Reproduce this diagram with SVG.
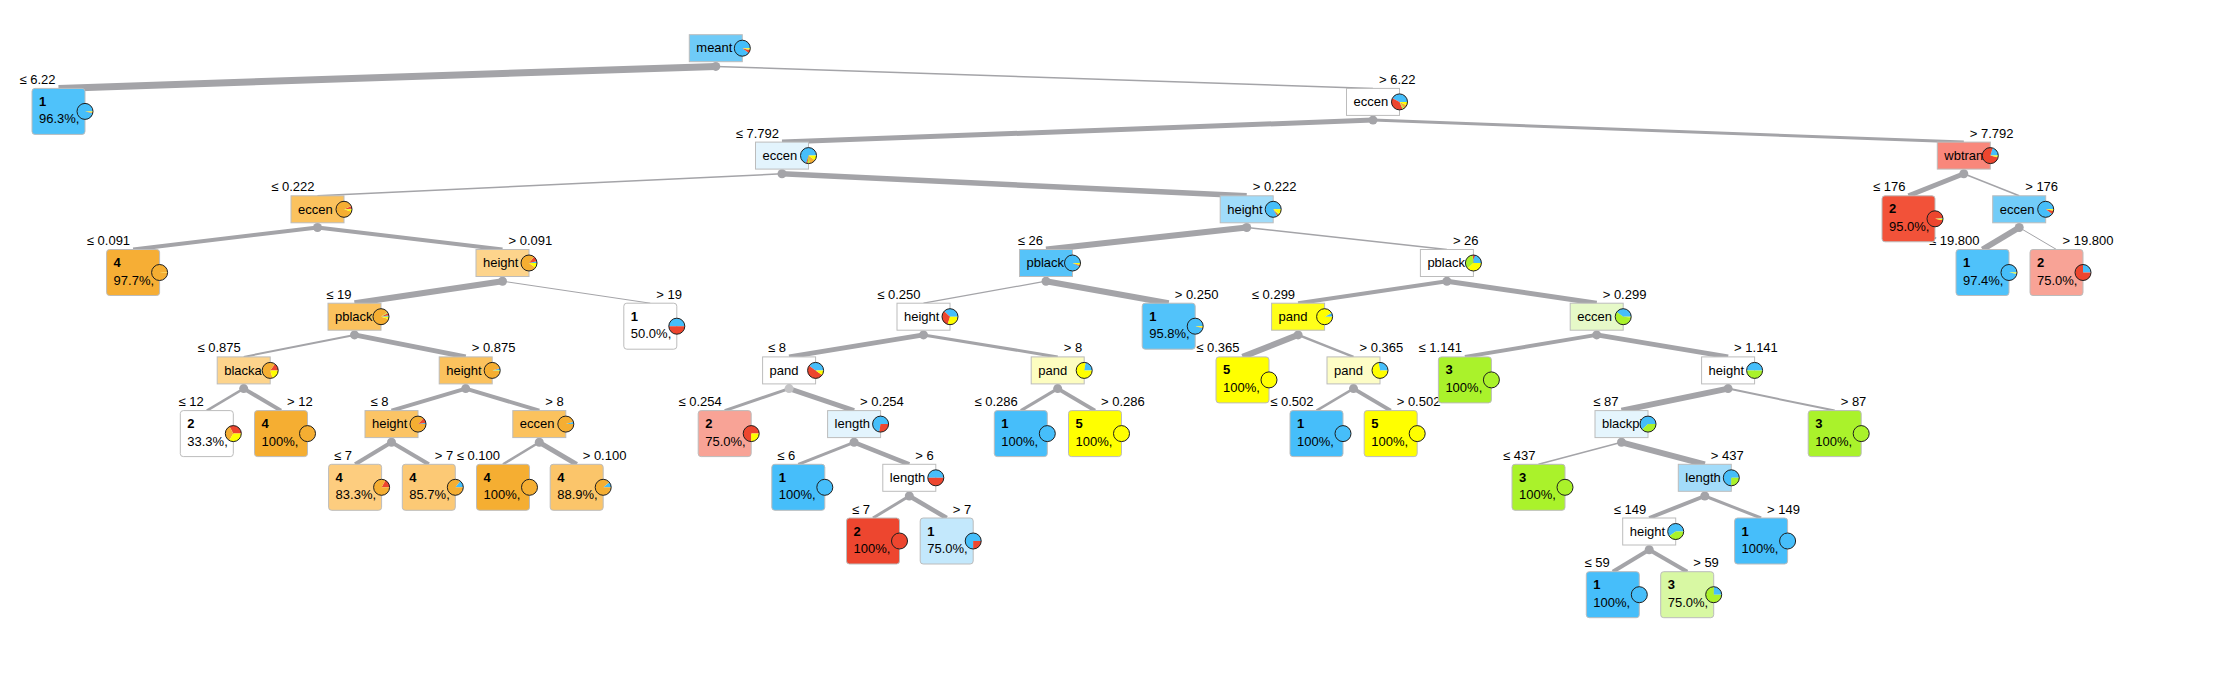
<svg xmlns="http://www.w3.org/2000/svg" width="2222" height="686" viewBox="0 0 2222 686">
<style>
.e{stroke:#a4a4a8;fill:none}
.d{fill:#a4a4a8}
.bx{stroke:#bcbcbc;stroke-width:1}
.t{font-family:"Liberation Sans",Arial,sans-serif;font-size:13px;fill:#000}
.b{font-weight:bold}
.el{font-family:"Liberation Sans",Arial,sans-serif;font-size:13px;fill:#000}
.r{text-anchor:end}
.s{fill:none;stroke-width:8}
.c1{stroke:#46befa}.c2{stroke:#ed462f}.c3{stroke:#aaf22b}.c4{stroke:#f5ae32}.c5{stroke:#ffff00}
.pie{fill:none;stroke:#1e1e1e;stroke-width:1}
.p1{fill:#46befa}.p2{fill:#ed462f}.p3{fill:#aaf22b}.p4{fill:#f5ae32}.p5{fill:#ffff00}
</style>
<rect width="2222" height="686" fill="#ffffff"/>
<g id="connectors">
<line class="e" stroke-width="7" x1="715.8" y1="66.4" x2="58.5" y2="88.4"/>
<line class="e" stroke-width="1.5" x1="715.8" y1="66.4" x2="1373" y2="88.4"/>
<line class="e" stroke-width="5" x1="1373" y1="120.1" x2="782" y2="142.1"/>
<line class="e" stroke-width="3" x1="1373" y1="120.1" x2="1963.8" y2="142.1"/>
<line class="e" stroke-width="1.5" x1="782" y1="173.8" x2="317.5" y2="195.8"/>
<line class="e" stroke-width="5.5" x1="782" y1="173.8" x2="1246.7" y2="195.8"/>
<line class="e" stroke-width="5" x1="1963.8" y1="173.8" x2="1908.5" y2="195.8"/>
<line class="e" stroke-width="1.5" x1="1963.8" y1="173.8" x2="2019.2" y2="195.8"/>
<line class="e" stroke-width="4" x1="317.5" y1="227.5" x2="133.1" y2="249.5"/>
<line class="e" stroke-width="4" x1="317.5" y1="227.5" x2="502.5" y2="249.5"/>
<line class="e" stroke-width="6" x1="1246.7" y1="227.5" x2="1046" y2="249.5"/>
<line class="e" stroke-width="1.5" x1="1246.7" y1="227.5" x2="1446.9" y2="249.5"/>
<line class="e" stroke-width="6" x1="2019.2" y1="227.5" x2="1982.5" y2="249.5"/>
<line class="e" stroke-width="1" x1="2019.2" y1="227.5" x2="2056.5" y2="249.5"/>
<line class="e" stroke-width="6" x1="502.5" y1="281.2" x2="354.5" y2="303.2"/>
<line class="e" stroke-width="1" x1="502.5" y1="281.2" x2="650.3" y2="303.2"/>
<line class="e" stroke-width="1.2" x1="1046" y1="281.2" x2="923.5" y2="303.2"/>
<line class="e" stroke-width="6" x1="1046" y1="281.2" x2="1168.7" y2="303.2"/>
<line class="e" stroke-width="4" x1="1446.9" y1="281.2" x2="1298.1" y2="303.2"/>
<line class="e" stroke-width="5" x1="1446.9" y1="281.2" x2="1596.7" y2="303.2"/>
<line class="e" stroke-width="2" x1="354.5" y1="334.9" x2="243.7" y2="356.9"/>
<line class="e" stroke-width="5" x1="354.5" y1="334.9" x2="465.7" y2="356.9"/>
<line class="e" stroke-width="5" x1="923.5" y1="334.9" x2="789.1" y2="356.9"/>
<line class="e" stroke-width="3" x1="923.5" y1="334.9" x2="1057.7" y2="356.9"/>
<line class="e" stroke-width="6" x1="1298.1" y1="334.9" x2="1242.5" y2="356.9"/>
<line class="e" stroke-width="2.5" x1="1298.1" y1="334.9" x2="1353.5" y2="356.9"/>
<line class="e" stroke-width="4" x1="1596.7" y1="334.9" x2="1464.9" y2="356.9"/>
<line class="e" stroke-width="5" x1="1596.7" y1="334.9" x2="1728.1" y2="356.9"/>
<line class="e" stroke-width="2.5" x1="243.7" y1="388.6" x2="206.8" y2="410.6"/>
<line class="e" stroke-width="4" x1="243.7" y1="388.6" x2="281" y2="410.6"/>
<line class="e" stroke-width="4" x1="465.7" y1="388.6" x2="391.5" y2="410.6"/>
<line class="e" stroke-width="4" x1="465.7" y1="388.6" x2="539.3" y2="410.6"/>
<line class="e" stroke-width="3" x1="789.1" y1="388.6" x2="724.7" y2="410.6"/>
<line class="e" stroke-width="5" x1="789.1" y1="388.6" x2="854.1" y2="410.6"/>
<line class="e" stroke-width="3" x1="1057.7" y1="388.6" x2="1020.8" y2="410.6"/>
<line class="e" stroke-width="4" x1="1057.7" y1="388.6" x2="1095" y2="410.6"/>
<line class="e" stroke-width="2.5" x1="1353.5" y1="388.6" x2="1316.5" y2="410.6"/>
<line class="e" stroke-width="4" x1="1353.5" y1="388.6" x2="1390.7" y2="410.6"/>
<line class="e" stroke-width="6" x1="1728.1" y1="388.6" x2="1621.5" y2="410.6"/>
<line class="e" stroke-width="2" x1="1728.1" y1="388.6" x2="1834.7" y2="410.6"/>
<line class="e" stroke-width="4" x1="391.5" y1="442.3" x2="355.1" y2="464.3"/>
<line class="e" stroke-width="4" x1="391.5" y1="442.3" x2="428.8" y2="464.3"/>
<line class="e" stroke-width="2.5" x1="539.3" y1="442.3" x2="503" y2="464.3"/>
<line class="e" stroke-width="5" x1="539.3" y1="442.3" x2="576.7" y2="464.3"/>
<line class="e" stroke-width="3" x1="854.1" y1="442.3" x2="798.3" y2="464.3"/>
<line class="e" stroke-width="4.5" x1="854.1" y1="442.3" x2="909.3" y2="464.3"/>
<line class="e" stroke-width="1.5" x1="1621.5" y1="442.3" x2="1538.5" y2="464.3"/>
<line class="e" stroke-width="6" x1="1621.5" y1="442.3" x2="1704.8" y2="464.3"/>
<line class="e" stroke-width="3" x1="909.3" y1="496" x2="873" y2="518"/>
<line class="e" stroke-width="4.5" x1="909.3" y1="496" x2="946.7" y2="518"/>
<line class="e" stroke-width="4" x1="1704.8" y1="496" x2="1649.2" y2="518"/>
<line class="e" stroke-width="3" x1="1704.8" y1="496" x2="1761.1" y2="518"/>
<line class="e" stroke-width="4" x1="1649.2" y1="549.7" x2="1612.8" y2="571.7"/>
<line class="e" stroke-width="4" x1="1649.2" y1="549.7" x2="1687.2" y2="571.7"/>
<g class="d">
<circle cx="715.8" cy="66.4" r="4.5"/><circle cx="1373" cy="120.1" r="4.5"/><circle cx="782" cy="173.8" r="4.5"/><circle cx="1963.8" cy="173.8" r="4.5"/>
<circle cx="317.5" cy="227.5" r="4.5"/><circle cx="1246.7" cy="227.5" r="4.5"/><circle cx="2019.2" cy="227.5" r="4.5"/>
<circle cx="502.5" cy="281.2" r="4.5"/><circle cx="1046" cy="281.2" r="4.5"/><circle cx="1446.9" cy="281.2" r="4.5"/>
<circle cx="354.5" cy="334.9" r="4.5"/><circle cx="923.5" cy="334.9" r="4.5"/><circle cx="1298.1" cy="334.9" r="4.5"/><circle cx="1596.7" cy="334.9" r="4.5"/>
<circle cx="243.7" cy="388.6" r="4.5"/><circle cx="465.7" cy="388.6" r="4.5"/><circle cx="789.1" cy="388.6" r="4.5" fill="#c4c4c6"/><circle cx="1057.7" cy="388.6" r="4.5"/><circle cx="1353.5" cy="388.6" r="4.5"/><circle cx="1728.1" cy="388.6" r="4.5"/>
<circle cx="391.5" cy="442.3" r="4.5"/><circle cx="539.3" cy="442.3" r="4.5"/><circle cx="854.1" cy="442.3" r="4.5"/><circle cx="1621.5" cy="442.3" r="4.5"/>
<circle cx="909.3" cy="496" r="4.5"/><circle cx="1704.8" cy="496" r="4.5"/><circle cx="1649.2" cy="549.7" r="4.5"/>
</g>
<g class="el">
<text class="r" x="55.5" y="83.9">≤ 6.22</text><text x="1379" y="83.9">&gt; 6.22</text>
<text class="r" x="779" y="137.6">≤ 7.792</text><text x="1969.8" y="137.6">&gt; 7.792</text>
<text class="r" x="314.5" y="191.3">≤ 0.222</text><text x="1252.7" y="191.3">&gt; 0.222</text>
<text class="r" x="1905.5" y="191.3">≤ 176</text><text x="2025.2" y="191.3">&gt; 176</text>
<text class="r" x="130.1" y="245">≤ 0.091</text><text x="508.5" y="245">&gt; 0.091</text>
<text class="r" x="1043" y="245">≤ 26</text><text x="1452.9" y="245">&gt; 26</text>
<text class="r" x="1979.5" y="245">≤ 19.800</text><text x="2062.5" y="245">&gt; 19.800</text>
<text class="r" x="351.5" y="298.7">≤ 19</text><text x="656.3" y="298.7">&gt; 19</text>
<text class="r" x="920.5" y="298.7">≤ 0.250</text><text x="1174.7" y="298.7">&gt; 0.250</text>
<text class="r" x="1295.1" y="298.7">≤ 0.299</text><text x="1602.7" y="298.7">&gt; 0.299</text>
<text class="r" x="240.7" y="352.4">≤ 0.875</text><text x="471.7" y="352.4">&gt; 0.875</text>
<text class="r" x="786.1" y="352.4">≤ 8</text><text x="1063.7" y="352.4">&gt; 8</text>
<text class="r" x="1239.5" y="352.4">≤ 0.365</text><text x="1359.5" y="352.4">&gt; 0.365</text>
<text class="r" x="1461.9" y="352.4">≤ 1.141</text><text x="1734.1" y="352.4">&gt; 1.141</text>
<text class="r" x="203.8" y="406.1">≤ 12</text><text x="287" y="406.1">&gt; 12</text>
<text class="r" x="388.5" y="406.1">≤ 8</text><text x="545.3" y="406.1">&gt; 8</text>
<text class="r" x="721.7" y="406.1">≤ 0.254</text><text x="860.1" y="406.1">&gt; 0.254</text>
<text class="r" x="1017.8" y="406.1">≤ 0.286</text><text x="1101" y="406.1">&gt; 0.286</text>
<text class="r" x="1313.5" y="406.1">≤ 0.502</text><text x="1396.7" y="406.1">&gt; 0.502</text>
<text class="r" x="1618.5" y="406.1">≤ 87</text><text x="1840.7" y="406.1">&gt; 87</text>
<text class="r" x="352.1" y="459.8">≤ 7</text><text x="434.8" y="459.8">&gt; 7</text>
<text class="r" x="500" y="459.8">≤ 0.100</text><text x="582.7" y="459.8">&gt; 0.100</text>
<text class="r" x="795.3" y="459.8">≤ 6</text><text x="915.3" y="459.8">&gt; 6</text>
<text class="r" x="1535.5" y="459.8">≤ 437</text><text x="1710.8" y="459.8">&gt; 437</text>
<text class="r" x="870" y="513.5">≤ 7</text><text x="952.7" y="513.5">&gt; 7</text>
<text class="r" x="1646.2" y="513.5">≤ 149</text><text x="1767.1" y="513.5">&gt; 149</text>
<text class="r" x="1609.8" y="567.2">≤ 59</text><text x="1693.2" y="567.2">&gt; 59</text>
</g>
</g>

<g id="n0"><rect class="bx" x="689.3" y="34.7" width="53" height="27" fill="#6fcbf8"/><text class="t" x="696.3" y="52.4">meant</text><g transform="translate(742.3 48.2) scale(1 -1)"><circle class="s c1" r="4" pathLength="100" stroke-dasharray="89.8 100"/><circle class="s c2" r="4" pathLength="100" stroke-dasharray="6 100" stroke-dashoffset="-89.8"/><circle class="s c3" r="4" pathLength="100" stroke-dasharray="0.5 100" stroke-dashoffset="-95.8"/><circle class="s c4" r="4" pathLength="100" stroke-dasharray="1.6 100" stroke-dashoffset="-96.3"/><circle class="s c5" r="4" pathLength="100" stroke-dasharray="2.1 100" stroke-dashoffset="-97.9"/></g><circle class="pie" cx="742.3" cy="48.2" r="8"/></g>

<g id="n1"><rect class="bx" x="32" y="88.4" width="53" height="46" rx="3" fill="#4fc2fa"/><text class="t b" x="39" y="105.9">1</text><text class="t" x="39" y="123.4">96.3%,</text><g transform="translate(85 111.4) scale(1 -1)"><circle class="s c1" r="4" pathLength="100" stroke-dasharray="96.3 100"/><circle class="s c2" r="4" pathLength="100" stroke-dasharray="1 100" stroke-dashoffset="-96.3"/><circle class="s c4" r="4" pathLength="100" stroke-dasharray="0.5 100" stroke-dashoffset="-97.3"/><circle class="s c5" r="4" pathLength="100" stroke-dasharray="2.2 100" stroke-dashoffset="-97.8"/></g><circle class="pie" cx="85" cy="111.4" r="8"/></g>

<g id="n2"><rect class="bx" x="1346.5" y="88.4" width="53" height="27" fill="#ffffff"/><text class="t" x="1353.5" y="106.1">eccen</text><g transform="translate(1399.5 101.9) scale(1 -1)"><circle class="s c1" r="4" pathLength="100" stroke-dasharray="42 100"/><circle class="s c2" r="4" pathLength="100" stroke-dasharray="40 100" stroke-dashoffset="-42"/><circle class="s c3" r="4" pathLength="100" stroke-dasharray="3 100" stroke-dashoffset="-82"/><circle class="s c4" r="4" pathLength="100" stroke-dasharray="8 100" stroke-dashoffset="-85"/><circle class="s c5" r="4" pathLength="100" stroke-dasharray="7 100" stroke-dashoffset="-93"/></g><circle class="pie" cx="1399.5" cy="101.9" r="8"/></g>

<g id="n3"><rect class="bx" x="755.5" y="142.1" width="53" height="27" fill="#e3f4fd"/><text class="t" x="762.5" y="159.8">eccen</text><g transform="translate(808.5 155.6) scale(1 -1)"><circle class="s c1" r="4" pathLength="100" stroke-dasharray="70 100"/><circle class="s c2" r="4" pathLength="100" stroke-dasharray="3 100" stroke-dashoffset="-70"/><circle class="s c3" r="4" pathLength="100" stroke-dasharray="4 100" stroke-dashoffset="-73"/><circle class="s c4" r="4" pathLength="100" stroke-dasharray="13 100" stroke-dashoffset="-77"/><circle class="s c5" r="4" pathLength="100" stroke-dasharray="10 100" stroke-dashoffset="-90"/></g><circle class="pie" cx="808.5" cy="155.6" r="8"/></g>

<g id="n4"><rect class="bx" x="1937.3" y="142.1" width="53" height="27" fill="#f9877b"/><text class="t" x="1944.3" y="159.8">wbtran</text><g transform="translate(1990.3 155.6) scale(1 -1)"><circle class="s c1" r="4" pathLength="100" stroke-dasharray="20 100"/><circle class="s c2" r="4" pathLength="100" stroke-dasharray="76 100" stroke-dashoffset="-20"/><circle class="s c4" r="4" pathLength="100" stroke-dasharray="1 100" stroke-dashoffset="-96"/><circle class="s c5" r="4" pathLength="100" stroke-dasharray="3 100" stroke-dashoffset="-97"/></g><circle class="pie" cx="1990.3" cy="155.6" r="8"/></g>

<g id="n5"><rect class="bx" x="291" y="195.8" width="53" height="27" fill="#fbc25e"/><text class="t" x="298" y="213.5">eccen</text><g transform="translate(344 209.3) scale(1 -1)"><circle class="s c1" r="4" pathLength="100" stroke-dasharray="1 100"/><circle class="s c2" r="4" pathLength="100" stroke-dasharray="6 100" stroke-dashoffset="-1"/><circle class="s c4" r="4" pathLength="100" stroke-dasharray="88 100" stroke-dashoffset="-7"/><circle class="s c5" r="4" pathLength="100" stroke-dasharray="5 100" stroke-dashoffset="-95"/></g><circle class="pie" cx="344" cy="209.3" r="8"/></g>

<g id="n6"><rect class="bx" x="1220.2" y="195.8" width="53" height="27" fill="#a0dcfa"/><text class="t" x="1227.2" y="213.5">height</text><g transform="translate(1273.2 209.3) scale(1 -1)"><circle class="s c1" r="4" pathLength="100" stroke-dasharray="84 100"/><circle class="s c2" r="4" pathLength="100" stroke-dasharray="3 100" stroke-dashoffset="-84"/><circle class="s c3" r="4" pathLength="100" stroke-dasharray="2 100" stroke-dashoffset="-87"/><circle class="s c4" r="4" pathLength="100" stroke-dasharray="1 100" stroke-dashoffset="-89"/><circle class="s c5" r="4" pathLength="100" stroke-dasharray="10 100" stroke-dashoffset="-90"/></g><circle class="pie" cx="1273.2" cy="209.3" r="8"/></g>

<g id="n7"><rect class="bx" x="1882" y="195.8" width="53" height="46" rx="3" fill="#f25239"/><text class="t b" x="1889" y="213.3">2</text><text class="t" x="1889" y="230.8">95.0%,</text><g transform="translate(1935 218.8) scale(1 -1)"><circle class="s c1" r="4" pathLength="100" stroke-dasharray="2 100"/><circle class="s c2" r="4" pathLength="100" stroke-dasharray="95 100" stroke-dashoffset="-2"/><circle class="s c5" r="4" pathLength="100" stroke-dasharray="3 100" stroke-dashoffset="-97"/></g><circle class="pie" cx="1935" cy="218.8" r="8"/></g>

<g id="n8"><rect class="bx" x="1992.7" y="195.8" width="53" height="27" fill="#72ccf8"/><text class="t" x="1999.7" y="213.5">eccen</text><g transform="translate(2045.7 209.3) scale(1 -1)"><circle class="s c1" r="4" pathLength="100" stroke-dasharray="90 100"/><circle class="s c2" r="4" pathLength="100" stroke-dasharray="7 100" stroke-dashoffset="-90"/><circle class="s c5" r="4" pathLength="100" stroke-dasharray="3 100" stroke-dashoffset="-97"/></g><circle class="pie" cx="2045.7" cy="209.3" r="8"/></g>

<g id="n9"><rect class="bx" x="106.6" y="249.5" width="53" height="46" rx="3" fill="#f6ae35"/><text class="t b" x="113.6" y="267">4</text><text class="t" x="113.6" y="284.5">97.7%,</text><g transform="translate(159.6 272.5) scale(1 -1)"><circle class="s c2" r="4" pathLength="100" stroke-dasharray="1 100"/><circle class="s c4" r="4" pathLength="100" stroke-dasharray="97.7 100" stroke-dashoffset="-1"/><circle class="s c5" r="4" pathLength="100" stroke-dasharray="1.3 100" stroke-dashoffset="-98.7"/></g><circle class="pie" cx="159.6" cy="272.5" r="8"/></g>

<g id="n10"><rect class="bx" x="476" y="249.5" width="53" height="27" fill="#fdd48c"/><text class="t" x="483" y="267.2">height</text><g transform="translate(529 263) scale(1 -1)"><circle class="s c1" r="4" pathLength="100" stroke-dasharray="4 100"/><circle class="s c2" r="4" pathLength="100" stroke-dasharray="10 100" stroke-dashoffset="-4"/><circle class="s c4" r="4" pathLength="100" stroke-dasharray="76 100" stroke-dashoffset="-14"/><circle class="s c5" r="4" pathLength="100" stroke-dasharray="10 100" stroke-dashoffset="-90"/></g><circle class="pie" cx="529" cy="263" r="8"/></g>

<g id="n11"><rect class="bx" x="1019.5" y="249.5" width="53" height="27" fill="#56c3f9"/><text class="t" x="1026.5" y="267.2">pblack</text><g transform="translate(1072.5 263) scale(1 -1)"><circle class="s c1" r="4" pathLength="100" stroke-dasharray="93 100"/><circle class="s c2" r="4" pathLength="100" stroke-dasharray="2 100" stroke-dashoffset="-93"/><circle class="s c4" r="4" pathLength="100" stroke-dasharray="1 100" stroke-dashoffset="-95"/><circle class="s c5" r="4" pathLength="100" stroke-dasharray="4 100" stroke-dashoffset="-96"/></g><circle class="pie" cx="1072.5" cy="263" r="8"/></g>

<g id="n12"><rect class="bx" x="1420.4" y="249.5" width="53" height="27" fill="#ffffff"/><text class="t" x="1427.4" y="267.2">pblack</text><g transform="translate(1473.4 263) scale(1 -1)"><circle class="s c1" r="4" pathLength="100" stroke-dasharray="25 100"/><circle class="s c2" r="4" pathLength="100" stroke-dasharray="2 100" stroke-dashoffset="-25"/><circle class="s c3" r="4" pathLength="100" stroke-dasharray="35 100" stroke-dashoffset="-27"/><circle class="s c5" r="4" pathLength="100" stroke-dasharray="38 100" stroke-dashoffset="-62"/></g><circle class="pie" cx="1473.4" cy="263" r="8"/></g>

<g id="n13"><rect class="bx" x="1956" y="249.5" width="53" height="46" rx="3" fill="#4fc2fa"/><text class="t b" x="1963" y="267">1</text><text class="t" x="1963" y="284.5">97.4%,</text><g transform="translate(2009 272.5) scale(1 -1)"><circle class="s c1" r="4" pathLength="100" stroke-dasharray="97.4 100"/><circle class="s c5" r="4" pathLength="100" stroke-dasharray="2.6 100" stroke-dashoffset="-97.4"/></g><circle class="pie" cx="2009" cy="272.5" r="8"/></g>

<g id="n14"><rect class="bx" x="2030" y="249.5" width="53" height="46" rx="3" fill="#f8a396"/><text class="t b" x="2037" y="267">2</text><text class="t" x="2037" y="284.5">75.0%,</text><g transform="translate(2083 272.5) scale(1 -1)"><circle class="s c1" r="4" pathLength="100" stroke-dasharray="25 100"/><circle class="s c2" r="4" pathLength="100" stroke-dasharray="75 100" stroke-dashoffset="-25"/></g><circle class="pie" cx="2083" cy="272.5" r="8"/></g>

<g id="n15"><rect class="bx" x="328" y="303.2" width="53" height="27" fill="#fbc25e"/><text class="t" x="335" y="320.9">pblack</text><g transform="translate(381 316.7) scale(1 -1)"><circle class="s c1" r="4" pathLength="100" stroke-dasharray="3 100"/><circle class="s c2" r="4" pathLength="100" stroke-dasharray="5 100" stroke-dashoffset="-3"/><circle class="s c3" r="4" pathLength="100" stroke-dasharray="2 100" stroke-dashoffset="-8"/><circle class="s c4" r="4" pathLength="100" stroke-dasharray="85 100" stroke-dashoffset="-10"/><circle class="s c5" r="4" pathLength="100" stroke-dasharray="5 100" stroke-dashoffset="-95"/></g><circle class="pie" cx="381" cy="316.7" r="8"/></g>

<g id="n16"><rect class="bx" x="623.8" y="303.2" width="53" height="46" rx="3" fill="#ffffff"/><text class="t b" x="630.8" y="320.7">1</text><text class="t" x="630.8" y="338.2">50.0%,</text><g transform="translate(676.8 326.2) scale(1 -1)"><circle class="s c1" r="4" pathLength="100" stroke-dasharray="50 100"/><circle class="s c2" r="4" pathLength="100" stroke-dasharray="50 100" stroke-dashoffset="-50"/></g><circle class="pie" cx="676.8" cy="326.2" r="8"/></g>

<g id="n17"><rect class="bx" x="897" y="303.2" width="53" height="27" fill="#ffffff"/><text class="t" x="904" y="320.9">height</text><g transform="translate(950 316.7) scale(1 -1)"><circle class="s c1" r="4" pathLength="100" stroke-dasharray="38 100"/><circle class="s c2" r="4" pathLength="100" stroke-dasharray="32 100" stroke-dashoffset="-38"/><circle class="s c5" r="4" pathLength="100" stroke-dasharray="30 100" stroke-dashoffset="-70"/></g><circle class="pie" cx="950" cy="316.7" r="8"/></g>

<g id="n18"><rect class="bx" x="1142.2" y="303.2" width="53" height="46" rx="3" fill="#52c3fa"/><text class="t b" x="1149.2" y="320.7">1</text><text class="t" x="1149.2" y="338.2">95.8%,</text><g transform="translate(1195.2 326.2) scale(1 -1)"><circle class="s c1" r="4" pathLength="100" stroke-dasharray="95.8 100"/><circle class="s c2" r="4" pathLength="100" stroke-dasharray="1 100" stroke-dashoffset="-95.8"/><circle class="s c5" r="4" pathLength="100" stroke-dasharray="3.2 100" stroke-dashoffset="-96.8"/></g><circle class="pie" cx="1195.2" cy="326.2" r="8"/></g>

<g id="n19"><rect class="bx" x="1271.6" y="303.2" width="53" height="27" fill="#ffff1a"/><text class="t" x="1278.6" y="320.9">pand</text><g transform="translate(1324.6 316.7) scale(1 -1)"><circle class="s c1" r="4" pathLength="100" stroke-dasharray="8 100"/><circle class="s c5" r="4" pathLength="100" stroke-dasharray="92 100" stroke-dashoffset="-8"/></g><circle class="pie" cx="1324.6" cy="316.7" r="8"/></g>

<g id="n20"><rect class="bx" x="1570.2" y="303.2" width="53" height="27" fill="#e6f9c8"/><text class="t" x="1577.2" y="320.9">eccen</text><g transform="translate(1623.2 316.7) scale(1 -1)"><circle class="s c1" r="4" pathLength="100" stroke-dasharray="40 100"/><circle class="s c3" r="4" pathLength="100" stroke-dasharray="58 100" stroke-dashoffset="-40"/><circle class="s c5" r="4" pathLength="100" stroke-dasharray="2 100" stroke-dashoffset="-98"/></g><circle class="pie" cx="1623.2" cy="316.7" r="8"/></g>

<g id="n21"><rect class="bx" x="217.2" y="356.9" width="53" height="27" fill="#fdd48c"/><text class="t" x="224.2" y="374.6">blacka</text><g transform="translate(270.2 370.4) scale(1 -1)"><circle class="s c2" r="4" pathLength="100" stroke-dasharray="15 100"/><circle class="s c4" r="4" pathLength="100" stroke-dasharray="65 100" stroke-dashoffset="-15"/><circle class="s c5" r="4" pathLength="100" stroke-dasharray="20 100" stroke-dashoffset="-80"/></g><circle class="pie" cx="270.2" cy="370.4" r="8"/></g>

<g id="n22"><rect class="bx" x="439.2" y="356.9" width="53" height="27" fill="#fbc25e"/><text class="t" x="446.2" y="374.6">height</text><g transform="translate(492.2 370.4) scale(1 -1)"><circle class="s c1" r="4" pathLength="100" stroke-dasharray="4 100"/><circle class="s c2" r="4" pathLength="100" stroke-dasharray="1 100" stroke-dashoffset="-4"/><circle class="s c4" r="4" pathLength="100" stroke-dasharray="93 100" stroke-dashoffset="-5"/><circle class="s c5" r="4" pathLength="100" stroke-dasharray="2 100" stroke-dashoffset="-98"/></g><circle class="pie" cx="492.2" cy="370.4" r="8"/></g>

<g id="n23"><rect class="bx" x="762.6" y="356.9" width="53" height="27" fill="#ffffff"/><text class="t" x="769.6" y="374.6">pand</text><g transform="translate(815.6 370.4) scale(1 -1)"><circle class="s c1" r="4" pathLength="100" stroke-dasharray="40 100"/><circle class="s c2" r="4" pathLength="100" stroke-dasharray="50 100" stroke-dashoffset="-40"/><circle class="s c5" r="4" pathLength="100" stroke-dasharray="10 100" stroke-dashoffset="-90"/></g><circle class="pie" cx="815.6" cy="370.4" r="8"/></g>

<g id="n24"><rect class="bx" x="1031.2" y="356.9" width="53" height="27" fill="#fdfdc0"/><text class="t" x="1038.2" y="374.6">pand</text><g transform="translate(1084.2 370.4) scale(1 -1)"><circle class="s c1" r="4" pathLength="100" stroke-dasharray="22 100"/><circle class="s c5" r="4" pathLength="100" stroke-dasharray="78 100" stroke-dashoffset="-22"/></g><circle class="pie" cx="1084.2" cy="370.4" r="8"/></g>

<g id="n25"><rect class="bx" x="1216" y="356.9" width="53" height="46" rx="3" fill="#ffff00"/><text class="t b" x="1223" y="374.4">5</text><text class="t" x="1223" y="391.9">100%,</text><circle class="pie p5" cx="1269" cy="379.9" r="8"/></g>

<g id="n26"><rect class="bx" x="1327" y="356.9" width="53" height="27" fill="#fdfdc6"/><text class="t" x="1334" y="374.6">pand</text><g transform="translate(1380 370.4) scale(1 -1)"><circle class="s c1" r="4" pathLength="100" stroke-dasharray="28 100"/><circle class="s c5" r="4" pathLength="100" stroke-dasharray="72 100" stroke-dashoffset="-28"/></g><circle class="pie" cx="1380" cy="370.4" r="8"/></g>

<g id="n27"><rect class="bx" x="1438.4" y="356.9" width="53" height="46" rx="3" fill="#aaf22b"/><text class="t b" x="1445.4" y="374.4">3</text><text class="t" x="1445.4" y="391.9">100%,</text><circle class="pie p3" cx="1491.4" cy="379.9" r="8"/></g>

<g id="n28"><rect class="bx" x="1701.6" y="356.9" width="53" height="27" fill="#ffffff"/><text class="t" x="1708.6" y="374.6">height</text><g transform="translate(1754.6 370.4) scale(1 -1)"><circle class="s c1" r="4" pathLength="100" stroke-dasharray="50 100"/><circle class="s c3" r="4" pathLength="100" stroke-dasharray="50 100" stroke-dashoffset="-50"/></g><circle class="pie" cx="1754.6" cy="370.4" r="8"/></g>

<g id="n29"><rect class="bx" x="180.3" y="410.6" width="53" height="46" rx="3" fill="#ffffff"/><text class="t b" x="187.3" y="428.1">2</text><text class="t" x="187.3" y="445.6">33.3%,</text><g transform="translate(233.3 433.6) scale(1 -1)"><circle class="s c2" r="4" pathLength="100" stroke-dasharray="33.3 100"/><circle class="s c4" r="4" pathLength="100" stroke-dasharray="33.3 100" stroke-dashoffset="-33.3"/><circle class="s c5" r="4" pathLength="100" stroke-dasharray="33.4 100" stroke-dashoffset="-66.6"/></g><circle class="pie" cx="233.3" cy="433.6" r="8"/></g>

<g id="n30"><rect class="bx" x="254.5" y="410.6" width="53" height="46" rx="3" fill="#f5ae32"/><text class="t b" x="261.5" y="428.1">4</text><text class="t" x="261.5" y="445.6">100%,</text><circle class="pie p4" cx="307.5" cy="433.6" r="8"/></g>

<g id="n31"><rect class="bx" x="365" y="410.6" width="53" height="27" fill="#fbc465"/><text class="t" x="372" y="428.3">height</text><g transform="translate(418 424.1) scale(1 -1)"><circle class="s c1" r="4" pathLength="100" stroke-dasharray="3 100"/><circle class="s c2" r="4" pathLength="100" stroke-dasharray="10 100" stroke-dashoffset="-3"/><circle class="s c4" r="4" pathLength="100" stroke-dasharray="87 100" stroke-dashoffset="-13"/></g><circle class="pie" cx="418" cy="424.1" r="8"/></g>

<g id="n32"><rect class="bx" x="512.8" y="410.6" width="53" height="27" fill="#fbc25e"/><text class="t" x="519.8" y="428.3">eccen</text><g transform="translate(565.8 424.1) scale(1 -1)"><circle class="s c1" r="4" pathLength="100" stroke-dasharray="5 100"/><circle class="s c4" r="4" pathLength="100" stroke-dasharray="95 100" stroke-dashoffset="-5"/></g><circle class="pie" cx="565.8" cy="424.1" r="8"/></g>

<g id="n33"><rect class="bx" x="698.2" y="410.6" width="53" height="46" rx="3" fill="#f8a396"/><text class="t b" x="705.2" y="428.1">2</text><text class="t" x="705.2" y="445.6">75.0%,</text><g transform="translate(751.2 433.6) scale(1 -1)"><circle class="s c2" r="4" pathLength="100" stroke-dasharray="75 100"/><circle class="s c5" r="4" pathLength="100" stroke-dasharray="25 100" stroke-dashoffset="-75"/></g><circle class="pie" cx="751.2" cy="433.6" r="8"/></g>

<g id="n34"><rect class="bx" x="827.6" y="410.6" width="53" height="27" fill="#e3f4fd"/><text class="t" x="834.6" y="428.3">length</text><g transform="translate(880.6 424.1) scale(1 -1)"><circle class="s c1" r="4" pathLength="100" stroke-dasharray="72 100"/><circle class="s c2" r="4" pathLength="100" stroke-dasharray="28 100" stroke-dashoffset="-72"/></g><circle class="pie" cx="880.6" cy="424.1" r="8"/></g>

<g id="n35"><rect class="bx" x="994.3" y="410.6" width="53" height="46" rx="3" fill="#46befa"/><text class="t b" x="1001.3" y="428.1">1</text><text class="t" x="1001.3" y="445.6">100%,</text><circle class="pie p1" cx="1047.3" cy="433.6" r="8"/></g>

<g id="n36"><rect class="bx" x="1068.5" y="410.6" width="53" height="46" rx="3" fill="#ffff00"/><text class="t b" x="1075.5" y="428.1">5</text><text class="t" x="1075.5" y="445.6">100%,</text><circle class="pie p5" cx="1121.5" cy="433.6" r="8"/></g>

<g id="n37"><rect class="bx" x="1290" y="410.6" width="53" height="46" rx="3" fill="#46befa"/><text class="t b" x="1297" y="428.1">1</text><text class="t" x="1297" y="445.6">100%,</text><circle class="pie p1" cx="1343" cy="433.6" r="8"/></g>

<g id="n38"><rect class="bx" x="1364.2" y="410.6" width="53" height="46" rx="3" fill="#ffff00"/><text class="t b" x="1371.2" y="428.1">5</text><text class="t" x="1371.2" y="445.6">100%,</text><circle class="pie p5" cx="1417.2" cy="433.6" r="8"/></g>

<g id="n39"><rect class="bx" x="1595" y="410.6" width="53" height="27" fill="#e5f5fd"/><text class="t" x="1602" y="428.3">blackpi</text><g transform="translate(1648 424.1) scale(1 -1)"><circle class="s c1" r="4" pathLength="100" stroke-dasharray="62 100"/><circle class="s c3" r="4" pathLength="100" stroke-dasharray="38 100" stroke-dashoffset="-62"/></g><circle class="pie" cx="1648" cy="424.1" r="8"/></g>

<g id="n40"><rect class="bx" x="1808.2" y="410.6" width="53" height="46" rx="3" fill="#aaf22b"/><text class="t b" x="1815.2" y="428.1">3</text><text class="t" x="1815.2" y="445.6">100%,</text><circle class="pie p3" cx="1861.2" cy="433.6" r="8"/></g>

<g id="n41"><rect class="bx" x="328.6" y="464.3" width="53" height="46" rx="3" fill="#fdcd7f"/><text class="t b" x="335.6" y="481.8">4</text><text class="t" x="335.6" y="499.3">83.3%,</text><g transform="translate(381.6 487.3) scale(1 -1)"><circle class="s c2" r="4" pathLength="100" stroke-dasharray="16.7 100"/><circle class="s c4" r="4" pathLength="100" stroke-dasharray="83.3 100" stroke-dashoffset="-16.7"/></g><circle class="pie" cx="381.6" cy="487.3" r="8"/></g>

<g id="n42"><rect class="bx" x="402.3" y="464.3" width="53" height="46" rx="3" fill="#fcc975"/><text class="t b" x="409.3" y="481.8">4</text><text class="t" x="409.3" y="499.3">85.7%,</text><g transform="translate(455.3 487.3) scale(1 -1)"><circle class="s c1" r="4" pathLength="100" stroke-dasharray="14.3 100"/><circle class="s c4" r="4" pathLength="100" stroke-dasharray="85.7 100" stroke-dashoffset="-14.3"/></g><circle class="pie" cx="455.3" cy="487.3" r="8"/></g>

<g id="n43"><rect class="bx" x="476.5" y="464.3" width="53" height="46" rx="3" fill="#f5ae32"/><text class="t b" x="483.5" y="481.8">4</text><text class="t" x="483.5" y="499.3">100%,</text><circle class="pie p4" cx="529.5" cy="487.3" r="8"/></g>

<g id="n44"><rect class="bx" x="550.2" y="464.3" width="53" height="46" rx="3" fill="#fbc56a"/><text class="t b" x="557.2" y="481.8">4</text><text class="t" x="557.2" y="499.3">88.9%,</text><g transform="translate(603.2 487.3) scale(1 -1)"><circle class="s c1" r="4" pathLength="100" stroke-dasharray="11.1 100"/><circle class="s c4" r="4" pathLength="100" stroke-dasharray="88.9 100" stroke-dashoffset="-11.1"/></g><circle class="pie" cx="603.2" cy="487.3" r="8"/></g>

<g id="n45"><rect class="bx" x="771.8" y="464.3" width="53" height="46" rx="3" fill="#46befa"/><text class="t b" x="778.8" y="481.8">1</text><text class="t" x="778.8" y="499.3">100%,</text><circle class="pie p1" cx="824.8" cy="487.3" r="8"/></g>

<g id="n46"><rect class="bx" x="882.8" y="464.3" width="53" height="27" fill="#ffffff"/><text class="t" x="889.8" y="482">length</text><g transform="translate(935.8 477.8) scale(1 -1)"><circle class="s c1" r="4" pathLength="100" stroke-dasharray="50 100"/><circle class="s c2" r="4" pathLength="100" stroke-dasharray="50 100" stroke-dashoffset="-50"/></g><circle class="pie" cx="935.8" cy="477.8" r="8"/></g>

<g id="n47"><rect class="bx" x="1512" y="464.3" width="53" height="46" rx="3" fill="#aaf22b"/><text class="t b" x="1519" y="481.8">3</text><text class="t" x="1519" y="499.3">100%,</text><circle class="pie p3" cx="1565" cy="487.3" r="8"/></g>

<g id="n48"><rect class="bx" x="1678.3" y="464.3" width="53" height="27" fill="#a3dcfa"/><text class="t" x="1685.3" y="482">length</text><g transform="translate(1731.3 477.8) scale(1 -1)"><circle class="s c1" r="4" pathLength="100" stroke-dasharray="75 100"/><circle class="s c3" r="4" pathLength="100" stroke-dasharray="25 100" stroke-dashoffset="-75"/></g><circle class="pie" cx="1731.3" cy="477.8" r="8"/></g>

<g id="n49"><rect class="bx" x="846.5" y="518" width="53" height="46" rx="3" fill="#ed462f"/><text class="t b" x="853.5" y="535.5">2</text><text class="t" x="853.5" y="553">100%,</text><circle class="pie p2" cx="899.5" cy="541" r="8"/></g>

<g id="n50"><rect class="bx" x="920.2" y="518" width="53" height="46" rx="3" fill="#c3e8fc"/><text class="t b" x="927.2" y="535.5">1</text><text class="t" x="927.2" y="553">75.0%,</text><g transform="translate(973.2 541) scale(1 -1)"><circle class="s c1" r="4" pathLength="100" stroke-dasharray="75 100"/><circle class="s c2" r="4" pathLength="100" stroke-dasharray="25 100" stroke-dashoffset="-75"/></g><circle class="pie" cx="973.2" cy="541" r="8"/></g>

<g id="n51"><rect class="bx" x="1622.7" y="518" width="53" height="27" fill="#ffffff"/><text class="t" x="1629.7" y="535.7">height</text><g transform="translate(1675.7 531.5) scale(1 -1)"><circle class="s c1" r="4" pathLength="100" stroke-dasharray="60 100"/><circle class="s c3" r="4" pathLength="100" stroke-dasharray="40 100" stroke-dashoffset="-60"/></g><circle class="pie" cx="1675.7" cy="531.5" r="8"/></g>

<g id="n52"><rect class="bx" x="1734.6" y="518" width="53" height="46" rx="3" fill="#46befa"/><text class="t b" x="1741.6" y="535.5">1</text><text class="t" x="1741.6" y="553">100%,</text><circle class="pie p1" cx="1787.6" cy="541" r="8"/></g>

<g id="n53"><rect class="bx" x="1586.3" y="571.7" width="53" height="46" rx="3" fill="#46befa"/><text class="t b" x="1593.3" y="589.2">1</text><text class="t" x="1593.3" y="606.7">100%,</text><circle class="pie p1" cx="1639.3" cy="594.7" r="8"/></g>

<g id="n54"><rect class="bx" x="1660.7" y="571.7" width="53" height="46" rx="3" fill="#d8f8a3"/><text class="t b" x="1667.7" y="589.2">3</text><text class="t" x="1667.7" y="606.7">75.0%,</text><g transform="translate(1713.7 594.7) scale(1 -1)"><circle class="s c1" r="4" pathLength="100" stroke-dasharray="25 100"/><circle class="s c3" r="4" pathLength="100" stroke-dasharray="75 100" stroke-dashoffset="-25"/></g><circle class="pie" cx="1713.7" cy="594.7" r="8"/></g>
</svg>
